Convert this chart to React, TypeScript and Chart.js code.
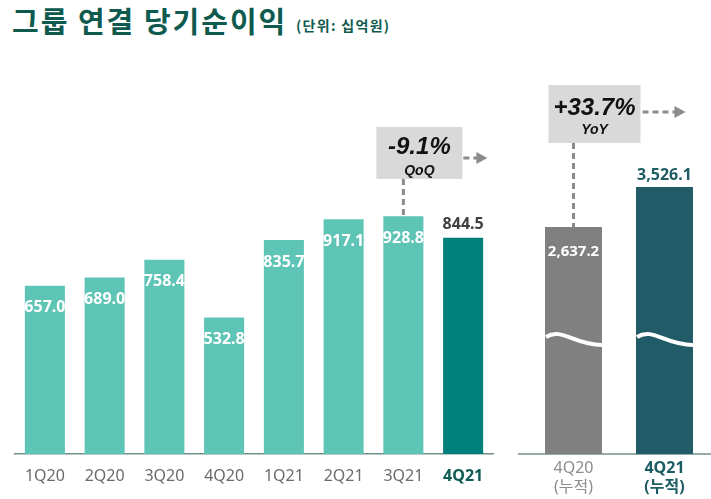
import React, { useEffect, useRef } from 'react';
import { Chart, registerables } from 'chart.js';

Chart.register(...registerables);

const TITLE = '그룹 연결 당기순이익';
const UNIT = '(단위: 십억원)';
const QUARTERS = ['1Q20', '2Q20', '3Q20', '4Q20', '1Q21', '2Q21', '3Q21', '4Q21'];
const QUARTER_PROFIT = [657.0, 689.0, 758.4, 532.8, 835.7, 917.1, 928.8, 844.5];
const CUM_LABELS = [['4Q20', '(누적)'], ['4Q21', '(누적)']];
const CUM_PROFIT = [2637.2, 3526.1];
const QOQ_TEXT = '-9.1%';
const QOQ_LABEL = 'QoQ';
const YOY_TEXT = '+33.7%';
const YOY_LABEL = 'YoY';

const FONT = '"Noto Sans", "Noto Sans CJK KR", sans-serif';
const ARIAL = '"Liberation Sans", Arial, sans-serif';
const AXIS_COLOR = '#71908b';
const DASH_COLOR = '#8c8c8c';
const BOX_COLOR = '#d9d9d9';

function dashedLine(ctx: CanvasRenderingContext2D, x1: number, y1: number, x2: number, y2: number) {
  ctx.save();
  ctx.strokeStyle = DASH_COLOR;
  ctx.lineWidth = 3;
  ctx.setLineDash([6, 4]);
  ctx.beginPath();
  ctx.moveTo(x1, y1);
  ctx.lineTo(x2, y2);
  ctx.stroke();
  ctx.restore();
}

function arrow(ctx: CanvasRenderingContext2D, x1: number, x2: number, y: number) {
  dashedLine(ctx, x1, y, x2 - 10, y);
  ctx.save();
  ctx.fillStyle = DASH_COLOR;
  ctx.beginPath();
  ctx.moveTo(x2 - 11, y - 6);
  ctx.lineTo(x2, y);
  ctx.lineTo(x2 - 11, y + 6);
  ctx.closePath();
  ctx.fill();
  ctx.restore();
}

function calloutBox(
  ctx: CanvasRenderingContext2D,
  x: number,
  y: number,
  w: number,
  h: number,
  big: string,
  small: string,
  bigY: number,
  smallY: number
) {
  ctx.save();
  ctx.fillStyle = BOX_COLOR;
  ctx.fillRect(x, y, w, h);
  ctx.fillStyle = '#111111';
  ctx.textAlign = 'center';
  ctx.textBaseline = 'middle';
  ctx.font = `italic bold 24px ${ARIAL}`;
  ctx.fillText(big, x + w / 2, y + bigY);
  ctx.font = `italic bold 14px ${ARIAL}`;
  ctx.fillText(small, x + w / 2, y + smallY);
  ctx.restore();
}

const leftPlugin = {
  id: 'leftDecor',
  afterDatasetsDraw(chart: any) {
    const ctx: CanvasRenderingContext2D = chart.ctx;
    const meta = chart.getDatasetMeta(0);
    const n = meta.data.length;
    ctx.save();
    ctx.textAlign = 'center';
    ctx.textBaseline = 'middle';
    meta.data.forEach((bar: any, i: number) => {
      const txt = QUARTER_PROFIT[i].toFixed(1);
      if (i === n - 1) {
        ctx.fillStyle = '#404040';
        ctx.font = `bold 16px ${FONT}`;
        ctx.fillText(txt, bar.x, bar.y - 13);
      } else {
        ctx.fillStyle = '#ffffff';
        ctx.font = `bold 16px ${FONT}`;
        ctx.fillText(txt, bar.x, bar.y + 22);
      }
    });
    ctx.restore();
    const ref = meta.data[n - 2];
    dashedLine(ctx, ref.x, 179, ref.x, ref.y);
    calloutBox(ctx, ref.x - 27, 127, 86, 52, QOQ_TEXT, QOQ_LABEL, 20, 44);
    arrow(ctx, ref.x + 60, ref.x + 84, 158);
  },
};

const fmt = (v: number) =>
  v.toLocaleString('en-US', { minimumFractionDigits: 1, maximumFractionDigits: 1 });

const rightPlugin = {
  id: 'rightDecor',
  beforeDatasetsDraw(chart: any) {
    const ctx: CanvasRenderingContext2D = chart.ctx;
    const a = chart.chartArea;
    ctx.save();
    ctx.strokeStyle = AXIS_COLOR;
    ctx.lineWidth = 1.5;
    ctx.beginPath();
    ctx.moveTo(a.left - 10, a.bottom);
    ctx.lineTo(chart.width, a.bottom);
    ctx.stroke();
    ctx.restore();
  },
  afterDatasetsDraw(chart: any) {
    const ctx: CanvasRenderingContext2D = chart.ctx;
    const meta = chart.getDatasetMeta(0);
    const a = chart.chartArea;
    meta.data.forEach((bar: any) => {
      const L = bar.x - bar.width / 2;
      const R = bar.x + bar.width / 2;
      const W = R - L;
      const y0 = a.bottom - 115;
      ctx.save();
      ctx.strokeStyle = '#ffffff';
      ctx.lineWidth = 4;
      ctx.beginPath();
      ctx.moveTo(L + 1, y0 - 2);
      ctx.bezierCurveTo(L + 0.3 * W, y0 - 12, L + 0.5 * W, y0 + 6, R, y0 + 6);
      ctx.stroke();
      ctx.restore();
    });
    ctx.save();
    ctx.textAlign = 'center';
    ctx.textBaseline = 'middle';
    const b0 = meta.data[0];
    const b1 = meta.data[1];
    ctx.font = `bold 15px ${FONT}`;
    ctx.fillStyle = '#ffffff';
    ctx.fillText(fmt(CUM_PROFIT[0]), b0.x, b0.y + 25);
    ctx.font = `bold 16px ${FONT}`;
    ctx.fillStyle = '#1d5c63';
    ctx.fillText(fmt(CUM_PROFIT[1]), b1.x, b1.y - 12);
    ctx.restore();
    dashedLine(ctx, b0.x, 143, b0.x, b0.y);
    calloutBox(ctx, b0.x - 25, 85, 92, 58, YOY_TEXT, YOY_LABEL, 23, 45);
    arrow(ctx, b0.x + 69, b0.x + 112, 112);
  },
};

export default function App() {
  const leftRef = useRef<HTMLCanvasElement>(null);
  const rightRef = useRef<HTMLCanvasElement>(null);

  useEffect(() => {
    const left = new Chart(leftRef.current as HTMLCanvasElement, {
      type: 'bar',
      data: {
        labels: QUARTERS,
        datasets: [
          {
            data: QUARTER_PROFIT,
            backgroundColor: QUARTER_PROFIT.map((_, i) =>
              i === QUARTER_PROFIT.length - 1 ? '#007f7b' : '#5ec4b6'
            ),
            barPercentage: 0.67,
            categoryPercentage: 1,
          },
        ],
      },
      options: {
        animation: false,
        responsive: false,
        devicePixelRatio: 1,
        layout: { padding: { left: 15, right: 12, top: 54, bottom: 0 } },
        plugins: { legend: { display: false }, tooltip: { enabled: false } },
        scales: {
          x: {
            grid: { display: false, drawTicks: false, tickLength: 0 },
            border: { display: true, color: AXIS_COLOR, width: 1.5 },
            ticks: {
              padding: 13,
              color: (c: any) => (c.index === QUARTERS.length - 1 ? '#0f5a55' : '#6b6b6b'),
              font: (c: any) => ({
                family: FONT,
                size: 16,
                weight: c.index === QUARTERS.length - 1 ? 'bold' : 'normal',
              }),
            },
            afterFit: (s: any) => {
              s.height = 45;
            },
          },
          y: { display: false, min: 0, max: 1562.5 },
        },
      },
      plugins: [leftPlugin],
    } as any);

    const right = new Chart(rightRef.current as HTMLCanvasElement, {
      type: 'bar',
      data: {
        labels: CUM_LABELS,
        datasets: [
          {
            data: CUM_PROFIT,
            base: -2407,
            backgroundColor: ['#808080', '#215b68'],
            barPercentage: 0.626,
            categoryPercentage: 1,
          },
        ],
      },
      options: {
        animation: false,
        responsive: false,
        devicePixelRatio: 1,
        layout: { padding: { left: 23, right: 1, top: 54, bottom: 0 } },
        plugins: { legend: { display: false }, tooltip: { enabled: false } },
        scales: {
          x: {
            grid: { display: false, drawTicks: false, tickLength: 0 },
            border: { display: false },
            ticks: {
              padding: 5,
              color: (c: any) => (c.index === 1 ? '#1d5c63' : '#8c8c8c'),
              font: (c: any) => ({
                family: FONT,
                size: 16,
                weight: c.index === 1 ? 'bold' : 'normal',
              }),
            },
            afterFit: (s: any) => {
              s.height = 45;
            },
          },
          y: { display: false, min: -2407, max: 6482 },
        },
      },
      plugins: [rightPlugin],
    } as any);

    return () => {
      left.destroy();
      right.destroy();
    };
  }, []);

  return (
    <div
      style={{
        position: 'fixed',
        left: 0,
        top: 0,
        width: 711,
        height: 499,
        background: '#ffffff',
        overflow: 'hidden',
      }}
    >
      <div
        style={{
          position: 'absolute',
          left: 12,
          top: 0,
          fontFamily: '"Noto Sans CJK KR", sans-serif',
          fontWeight: 700,
          fontSize: 29,
          letterSpacing: '2px',
          lineHeight: '40px',
          color: '#0f5a4f',
          whiteSpace: 'nowrap',
        }}
      >
        {TITLE}
      </div>
      <div
        style={{
          position: 'absolute',
          left: 296,
          top: 15,
          fontFamily: '"Noto Sans CJK KR", sans-serif',
          fontWeight: 700,
          fontSize: 14,
          letterSpacing: '1.3px',
          lineHeight: '20px',
          color: '#0f5a4f',
          whiteSpace: 'nowrap',
        }}
      >
        {UNIT}
      </div>
      <canvas
        ref={leftRef}
        width={505}
        height={499}
        style={{ position: 'absolute', left: 0, top: 0, width: 505, height: 499 }}
      />
      <canvas
        ref={rightRef}
        width={206}
        height={499}
        style={{ position: 'absolute', left: 505, top: 0, width: 206, height: 499 }}
      />
    </div>
  );
}
